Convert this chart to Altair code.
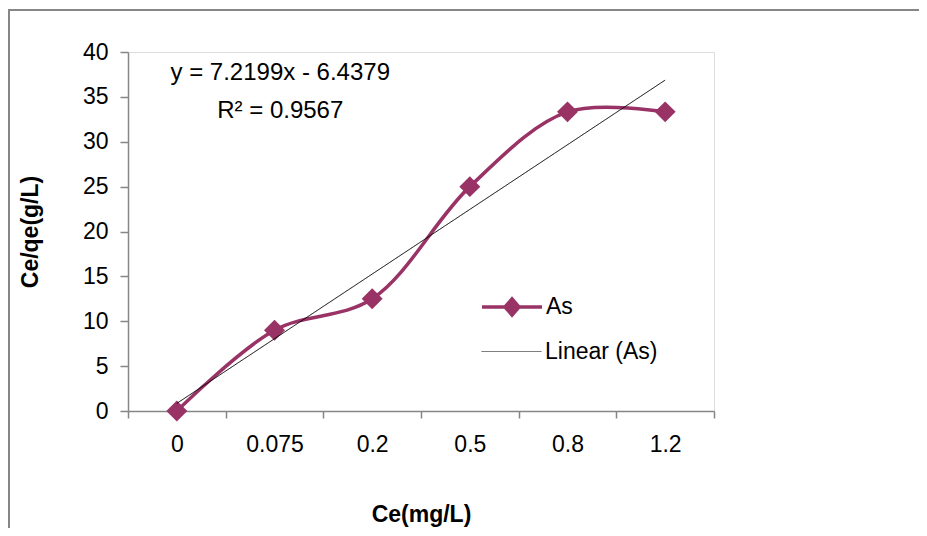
import json
import altair as alt
import pandas as pd

# ---- data ----
ce_labels = ["0", "0.075", "0.2", "0.5", "0.8", "1.2"]
ce_qe = [0, 9.0, 12.5, 25.0, 33.33, 33.33]
series_names = ["As", "Linear (As)"]
equation_lines = ["y = 7.2199x - 6.4379", "R\u00b2 = 0.9567"]
y_ticks = [0, 5, 10, 15, 20, 25, 30, 35, 40]

PURPLE = "#993366"
GRAY = "#868686"
FONT = "Liberation Sans"

df = pd.DataFrame({
    "idx": list(range(1, len(ce_labels) + 1)),
    "label": ce_labels,
    "val": ce_qe,
    "series": series_names[0],
})

n = len(ce_labels)
boundaries = [i + 0.5 for i in range(n + 1)]
label_expr = json.dumps(ce_labels + [""]) + "[floor(datum.value)]"

W, H = 586, 359

x_enc = alt.X(
    "idx:Q",
    scale=alt.Scale(domain=[0.5, n + 0.5], nice=False, zero=False),
    axis=alt.Axis(
        values=boundaries, labelExpr=label_expr, labelOffset=W / n / 2,
        labelFlush=False, labelOverlap=False, grid=False,
        tickSize=7, tickColor=GRAY, domainColor=GRAY, tickWidth=1.5, domainWidth=1.5,
        labelFont=FONT, labelFontSize=23, labelColor="black", labelPadding=15,
        title="Ce(mg/L)", titleFont=FONT, titleFontSize=23, titleFontWeight="bold",
        titleColor="black", titlePadding=47,
    ),
)
y_enc = alt.Y(
    "val:Q",
    scale=alt.Scale(domain=[0, 40], nice=False),
    axis=alt.Axis(
        values=y_ticks, grid=False, tickSize=8, tickColor=GRAY, domainColor=GRAY,
        tickWidth=1.5, domainWidth=1.5,
        labelFont=FONT, labelFontSize=23, labelColor="black", labelPadding=12,
        title="Ce/qe(g/L)", titleFont=FONT, titleFontSize=23, titleFontWeight="bold",
        titleColor="black", titlePadding=40,
    ),
)

as_shape = "M-1,0H5M1.3,0L2,-0.8L2.7,0L2,0.8Z"
lin_shape = "M-1,0H5"

as_legend = alt.Legend(
    title=None, orient="none", legendX=352, legendY=243,
    symbolType=as_shape, symbolSize=400, labelOffset=42,
    symbolFillColor=PURPLE, symbolStrokeColor=PURPLE, symbolStrokeWidth=3.5,
    symbolOpacity=1,
    labelFont=FONT, labelFontSize=23, labelColor="black",
)
lin_legend = alt.Legend(
    title=None, orient="none", legendX=352, legendY=288,
    symbolType=lin_shape, symbolSize=400, labelOffset=42,
    symbolStrokeColor="#555555", symbolStrokeWidth=1, symbolOpacity=1,
    labelFont=FONT, labelFontSize=23, labelColor="black",
)

base = alt.Chart(df)

line = base.mark_line(interpolate="catmull-rom", strokeWidth=3.5).encode(
    x=x_enc, y=y_enc,
    color=alt.Color("series:N", scale=alt.Scale(domain=[series_names[0]], range=[PURPLE]),
                    legend=as_legend),
)
points = base.mark_point(shape="diamond", filled=True, size=440, opacity=1, color=PURPLE).encode(
    x="idx:Q", y="val:Q"
)
trend = (
    base.transform_regression("idx", "val", extent=[1, n])
    .transform_calculate(series="'Linear (As)'")
    .mark_line(strokeWidth=1, color="black")
    .encode(
        x="idx:Q", y="val:Q",
        strokeDash=alt.StrokeDash("series:N",
                                  scale=alt.Scale(domain=[series_names[1]], range=[[1, 0]]),
                                  legend=lin_legend),
    )
)

frame = base.mark_rect(fill=None, stroke=GRAY, strokeWidth=1.5).encode(
    x=alt.value(-119), x2=alt.value(900), y=alt.value(-42), y2=alt.value(600)
)

chart = (
    alt.layer(frame, line, points, trend)
    .properties(
        width=W, height=H,
        autosize=alt.AutoSizeParams(type="none"),
        padding={"left": 120, "top": 44, "right": 205, "bottom": 117},
        title=alt.TitleParams(
            text=equation_lines, anchor="start", align="center", dx=272, dy=11,
            baseline="top", offset=-103, orient="top",
            font=FONT, fontSize=24, fontWeight="normal", color="black", lineHeight=38,
        ),
    )
    .configure_view(stroke=None)
    .configure(background="white")
)

chart.save("out.html", embed_options={"renderer": "svg", "actions": False})
